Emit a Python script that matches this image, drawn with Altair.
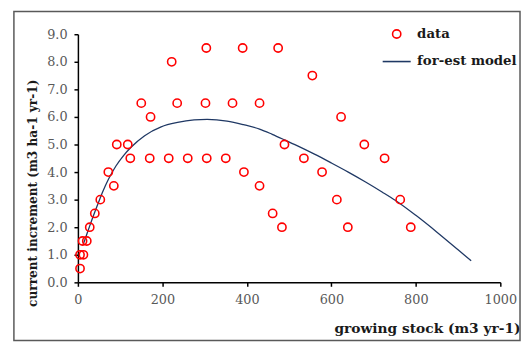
import altair as alt
import pandas as pd

# ---- data ----
stock = [5, 5, 13, 11, 21, 28, 40, 53, 72, 85, 92, 118, 124, 150, 172, 170, 215, 222,
         235, 260, 304, 302, 305, 366, 350, 390, 393, 430, 430, 474, 461, 483, 489,
         535, 555, 578, 613, 623, 639, 678, 726, 763, 788]
incr = [0.5, 1.0, 1.0, 1.5, 1.5, 2.0, 2.5, 3.0, 4.0, 3.5, 5.0, 5.0, 4.5, 6.5, 6.0, 4.5, 4.5, 8.0,
        6.5, 4.5, 8.5, 6.5, 4.5, 6.5, 4.5, 8.5, 4.0, 6.5, 3.5, 8.5, 2.5, 2.0, 5.0,
        4.5, 7.5, 4.0, 3.0, 6.0, 2.0, 5.0, 4.5, 3.0, 2.0]

model_stock = [12, 20, 28, 40, 50, 60, 72, 90, 108, 127, 158, 197, 236, 275, 306, 353, 392,
               430, 460, 489, 520, 560, 600, 640, 680, 720, 752, 800, 850, 900, 931]
model_incr = [1.35, 1.7, 2.05, 2.55, 2.95, 3.33, 3.73, 4.22, 4.6, 4.92, 5.32, 5.64, 5.80, 5.89,
              5.91, 5.85, 5.72, 5.56, 5.37, 5.17, 4.95, 4.65, 4.33, 4.0, 3.65, 3.28, 2.97,
              2.43, 1.82, 1.18, 0.78]

series_names = ["data", "for-est model"]
series_colors = ["#FF0000", "#1F3864"]
series_shapes = ["circle", "M-3.4,0H3.4"]
x_ticks = [0, 200, 400, 600, 800, 1000]
y_ticks = [0, 1, 2, 3, 4, 5, 6, 7, 8, 9]

pts = pd.DataFrame({"stock": stock, "incr": incr, "series": ["data"] * len(stock)})
mdl = pd.DataFrame({"stock": model_stock, "incr": model_incr})

FONT = "DejaVu Serif"

x_enc = alt.X("stock:Q", scale=alt.Scale(domain=[0, 1000], nice=False),
              axis=alt.Axis(values=x_ticks, format="d", title="growing stock (m3 yr-1)",
                            titleAlign="right", titleX=449, titleY=51,
                            titleBaseline="alphabetic", labelFlush=False,
                            labelFont=FONT, titleFont=FONT))
y_enc = alt.Y("incr:Q", scale=alt.Scale(domain=[0, 9], nice=False),
              axis=alt.Axis(values=y_ticks, format=".1f",
                            title="current increment (m3 ha-1 yr-1)",
                            titleAngle=270, titleX=-42, titleY=161, titleFontSize=12.3,
                            titleAlign="center", titleBaseline="alphabetic",
                            labelFont=FONT, titleFont=FONT))

frame = alt.Chart(pd.DataFrame({"f": [0]})).mark_rect(
    fill="transparent", stroke="#595959", strokeWidth=1.5
).encode(x=alt.value(-65), x2=alt.value(449), y=alt.value(-23), y2=alt.value(311))

line = alt.Chart(mdl).mark_line(color="#1F3864", strokeWidth=1.3, interpolate="monotone").encode(
    x=x_enc, y=y_enc
)

leg = alt.Legend(title=None, orient="none", legendX=317, legendY=-7, labelFont=FONT)
points = alt.Chart(pts).mark_point(filled=False, size=70, strokeWidth=1.6, opacity=1).encode(
    x=x_enc, y=y_enc,
    color=alt.Color("series:N", scale=alt.Scale(domain=series_names, range=series_colors), legend=leg),
    shape=alt.Shape("series:N", scale=alt.Scale(domain=series_names, range=series_shapes), legend=leg),
)

chart = alt.layer(frame, line, points).properties(
    width=429, height=252,
    autosize=alt.AutoSizeParams(type="none"),
    padding={"left": 71, "top": 24, "right": 21, "bottom": 62},
).configure(font=FONT).configure_view(stroke=None).configure_axis(
    grid=False, domainColor="#000000", domainWidth=1.5, tickColor="#000000", tickWidth=1.5,
    tickSize=4, labelFont=FONT, labelFontSize=13, labelColor="#595959", labelPadding=7,
    titleFont=FONT, titleFontSize=14, titleFontWeight="bold", titleColor="#1a1a1a",
).configure_legend(
    labelFont=FONT, labelFontSize=13.5, labelFontWeight="bold", labelColor="#1a1a1a",
    symbolSize=70, symbolStrokeWidth=1.6, labelOffset=14, rowPadding=12, padding=0,
)

chart.save("out.html", embed_options={"renderer": "svg", "actions": False})
